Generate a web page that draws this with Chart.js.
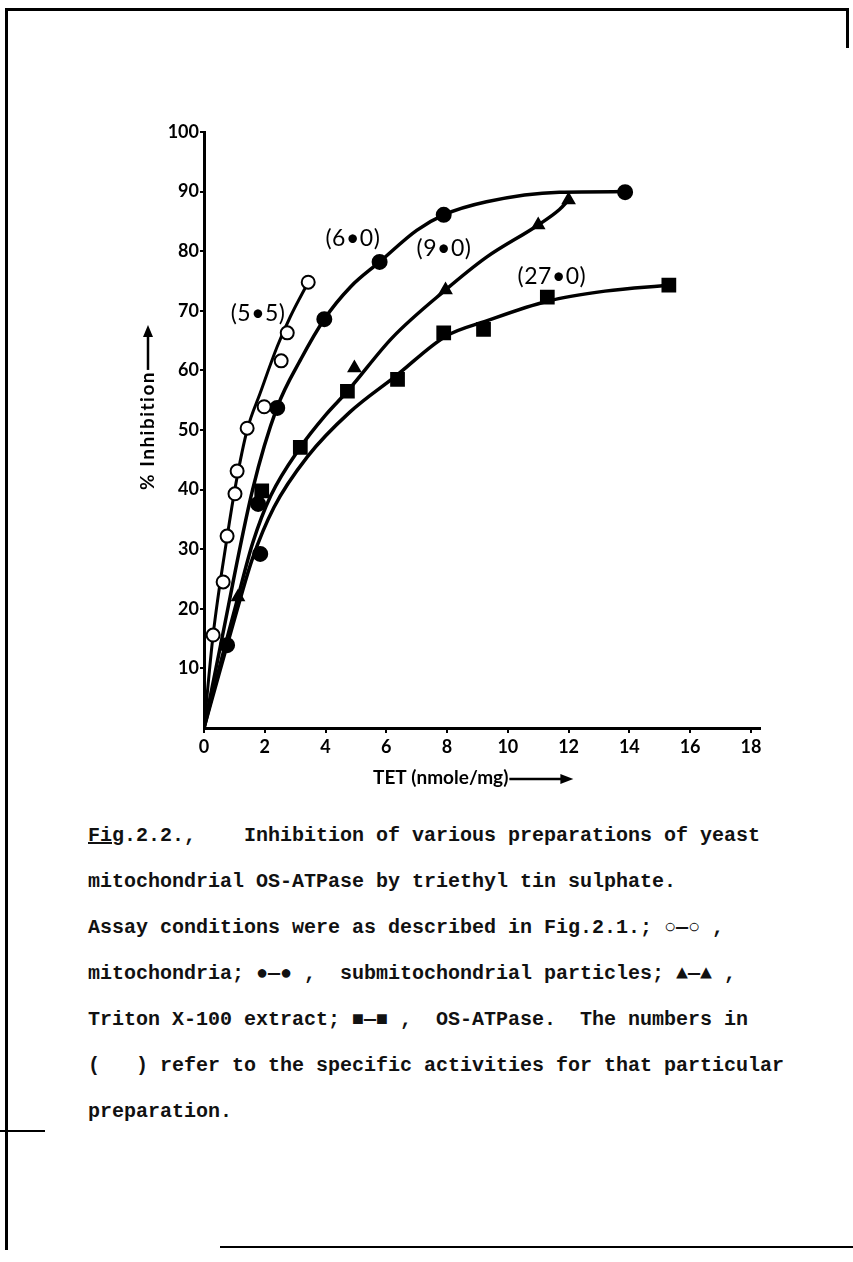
<!DOCTYPE html>
<html>
<head>
<meta charset="utf-8">
<script src="https://cdn.jsdelivr.net/npm/chart.js@4.4.1/dist/chart.umd.min.js"></script>
<style>
  html, body { margin:0; padding:0; background:#fff; }
  #page { position:relative; width:853px; height:1262px; overflow:hidden; background:#fff; }
  #chartBox { position:absolute; left:0; top:0; width:853px; height:800px; }
  .cap { position:absolute; left:88px; font-family:"Liberation Mono", monospace; font-weight:bold;
         font-size:20px; color:#111; white-space:pre; }
  .bl { position:absolute; background:#000; }
</style>
</head>
<body>
<div id="page">
  <div class="bl" style="left:5px;top:8px;width:3px;height:1242px"></div>
  <div class="bl" style="left:5px;top:8px;width:844px;height:3px"></div>
  <div class="bl" style="left:846px;top:8px;width:3px;height:40px"></div>
  <div class="bl" style="left:220px;top:1246px;width:633px;height:2px"></div>
  <div class="bl" style="left:0px;top:1130px;width:45px;height:2px"></div>
  <div id="chartBox"><canvas id="tetChart"></canvas></div>
  <div class="cap" style="top:824px"><u>Fig</u>.2.2.,    Inhibition of various preparations of yeast</div>
  <div class="cap" style="top:870px">mitochondrial OS-ATPase by triethyl tin sulphate.</div>
  <div class="cap" style="top:916px">Assay conditions were as described in Fig.2.1.; ○—○ ,</div>
  <div class="cap" style="top:962px">mitochondria; ●—● ,  submitochondrial particles; ▲—▲ ,</div>
  <div class="cap" style="top:1008px">Triton X-100 extract; ■—■ ,  OS-ATPase.  The numbers in</div>
  <div class="cap" style="top:1054px">(   ) refer to the specific activities for that particular</div>
  <div class="cap" style="top:1100px">preparation.</div>
</div>
<script>
// tick labels
const xTicks = [0, 2, 4, 6, 8, 10, 12, 14, 16, 18]
const yTicks = [10, 20, 30, 40, 50, 60, 70, 80, 90, 100]

// measured points (TET nmole/mg vs % inhibition)
const mitoX = [0.3, 0.63, 0.76, 1.02, 1.09, 1.42, 1.98, 2.54, 2.74, 3.43]
const mitoY = [15.6, 24.5, 32.2, 39.3, 43.1, 50.3, 53.9, 61.6, 66.3, 74.8]
const smpX = [0.76, 1.78, 1.85, 2.41, 3.96, 5.78, 7.89, 13.86]
const smpY = [13.9, 37.6, 29.2, 53.7, 68.6, 78.2, 86.1, 89.9]
const tritonX = [1.12, 4.95, 7.95, 11.0, 12.0]
const tritonY = [22.0, 60.4, 73.5, 84.4, 88.6]
const osX = [1.9, 3.17, 4.72, 6.37, 7.89, 9.2, 11.3, 15.3]
const osY = [39.8, 47.1, 56.5, 58.5, 66.3, 66.9, 72.3, 74.3]

// hand drawn curves
const curve55X = [0, 0.3, 0.76, 1.05, 1.42, 1.85, 2.41, 2.84, 3.43]
const curve55Y = [0, 15.6, 32, 41, 50, 56.2, 64, 69, 74.8]
const curve60X = [0, 0.55, 1.6, 2.4, 3.2, 3.96, 4.82, 5.78, 7.0, 7.89, 9.3, 11.7, 13.86]
const curve60Y = [0, 14, 40, 53.7, 62, 68.6, 74, 78.2, 83.5, 86.1, 88.3, 89.9, 90]
const curve90X = [0, 0.6, 1.12, 1.6, 2.2, 3.17, 4.0, 4.72, 6.2, 7.95, 9.3, 11.0, 11.7, 12.0]
const curve90Y = [0, 12, 22, 31, 39, 47.1, 52.5, 56.5, 65.5, 73.5, 79, 84.4, 87, 88.6]
const curve27X = [0, 0.6, 1.1, 1.6, 2.3, 3.4, 4.8, 6.3, 7.95, 9.3, 11.3, 13.2, 15.3]
const curve27Y = [0, 11, 20, 28.5, 37, 45.5, 53, 59, 65.7, 68.3, 71.6, 73.3, 74.3]

// specific activity labels
const actLabels = ["(5•5)", "(6•0)", "(9•0)", "(27•0)"]
const actX = [1.78, 4.9, 7.9, 11.45]
const actY = [69.6, 82.2, 80.5, 75.7]

const pts = (xs, ys) => xs.map((x, i) => ({x: x, y: ys[i]}))

function markers(xs, ys, style, fill, r){
    return {
        data: pts(xs, ys),
        showLine: false,
        pointStyle: style,
        pointRadius: r,
        pointBackgroundColor: fill,
        pointBorderColor: '#000',
        pointBorderWidth: 2,
        order: 0
    }
}

function curve(xs, ys, w){
    return {
        data: pts(xs, ys),
        showLine: true,
        borderColor: '#000',
        borderWidth: w,
        pointRadius: 0,
        cubicInterpolationMode: 'monotone',
        order: 1
    }
}

const annotate = {
    id: 'annotate',
    afterDraw(chart){
        const ctx = chart.ctx
        const xs = chart.scales.x, ys = chart.scales.y
        ctx.save()
        ctx.fillStyle = '#000'
        ctx.strokeStyle = '#000'
        ctx.textAlign = 'center'
        ctx.textBaseline = 'middle'
        ctx.font = '23px Lato'
        ctx.letterSpacing = '0.5px'
        actLabels.forEach((t, i) => {
            ctx.fillText(t, xs.getPixelForValue(actX[i]), ys.getPixelForValue(actY[i]))
        })
        ctx.letterSpacing = '0px'

        // x axis title with arrow
        ctx.font = 'bold 19px Lato'
        ctx.textAlign = 'left'
        const tx = 373, ty = 778
        ctx.fillText('TET (nmole/mg)', tx, ty)
        const tw = ctx.measureText('TET (nmole/mg)').width
        ctx.lineWidth = 2.5
        ctx.beginPath()
        ctx.moveTo(tx + tw + 1, ty + 1)
        ctx.lineTo(tx + tw + 56, ty + 1)
        ctx.stroke()
        ctx.beginPath()
        ctx.moveTo(tx + tw + 65, ty + 1)
        ctx.lineTo(tx + tw + 52, ty - 4)
        ctx.lineTo(tx + tw + 52, ty + 6)
        ctx.closePath()
        ctx.fill()

        // y axis title with arrow
        ctx.translate(148, 490)
        ctx.rotate(-Math.PI / 2)
        ctx.font = 'bold 19px Lato'
        ctx.letterSpacing = '1.5px'
        ctx.fillText('% Inhibition', 0, 0)
        const yw = ctx.measureText('% Inhibition').width
        ctx.letterSpacing = '0px'
        ctx.beginPath()
        ctx.moveTo(yw + 1, 0)
        ctx.lineTo(yw + 38, 0)
        ctx.stroke()
        ctx.beginPath()
        ctx.moveTo(yw + 46, 0)
        ctx.lineTo(yw + 34, -5)
        ctx.lineTo(yw + 34, 5)
        ctx.closePath()
        ctx.fill()
        ctx.restore()
    }
}

const tickFont = {family: 'Lato', weight: 'bold', size: 18}

new Chart(document.getElementById('tetChart'), {
    type: 'scatter',
    data: {
        datasets: [
            markers(mitoX, mitoY, 'circle', '#fff', 6.5),
            markers(smpX, smpY, 'circle', '#000', 7),
            markers(tritonX, tritonY, 'triangle', '#000', 6.5),
            markers(osX, osY, 'rect', '#000', 9),
            curve(curve55X, curve55Y, 3),
            curve(curve60X, curve60Y, 3.5),
            curve(curve90X, curve90Y, 3.5),
            curve(curve27X, curve27Y, 3.5)
        ]
    },
    options: {
        responsive: true,
        maintainAspectRatio: false,
        animation: false,
        layout: {padding: {left: 134, right: 93, top: 132, bottom: 22}},
        plugins: {legend: {display: false}, tooltip: {enabled: false}},
        scales: {
            x: {
                type: 'linear',
                min: 0,
                max: 18.3,
                afterFit: s => { s.height = 50 },
                afterBuildTicks: s => { s.ticks = xTicks.map(v => ({value: v})) },
                border: {display: true, color: '#000', width: 3},
                grid: {drawOnChartArea: false, drawTicks: true, tickLength: 5, color: '#000', lineWidth: 2},
                ticks: {color: '#000', font: tickFont, padding: 3, maxRotation: 0}
            },
            y: {
                type: 'linear',
                min: 0,
                max: 100,
                afterFit: s => { s.width = 70 },
                afterBuildTicks: s => { s.ticks = yTicks.map(v => ({value: v})) },
                border: {display: true, color: '#000', width: 3},
                grid: {drawOnChartArea: false, drawTicks: true, tickLength: 4, color: '#000', lineWidth: 2},
                ticks: {color: '#000', font: tickFont, padding: 1}
            }
        }
    },
    plugins: [annotate]
})
</script>
</body>
</html>
